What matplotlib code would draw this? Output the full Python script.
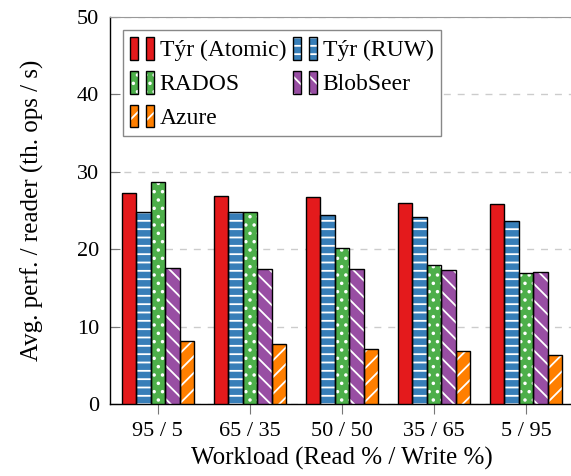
import numpy as np
import matplotlib
matplotlib.use('Agg')
import matplotlib.pyplot as plt
from matplotlib.patches import Rectangle

plt.rcParams['font.family'] = ['Liberation Serif', 'DejaVu Serif']
plt.rcParams['hatch.linewidth'] = 1.3

workloads = ['95 / 5', '65 / 35', '50 / 50', '35 / 65', '5 / 95']
systems = ['Týr (Atomic)', 'Týr (RUW)', 'RADOS', 'BlobSeer', 'Azure']
tyr_atomic = [27.2, 26.9, 26.7, 26.0, 25.9]
tyr_ruw = [24.8, 24.8, 24.4, 24.1, 23.6]
rados = [28.7, 24.8, 20.2, 17.9, 16.9]
blobseer = [17.6, 17.5, 17.4, 17.3, 17.0]
azure = [8.1, 7.7, 7.1, 6.8, 6.3]

series = [tyr_atomic, tyr_ruw, rados, blobseer, azure]
colors = ['#e41a1c', '#377eb8', '#4daf4a', '#984ea3', '#ff7f00']
hatches = ['', '--', '..', '\\\\', '//']


class TwoBoxHandler:
    # pgfplots-style legend image: two small bars side by side
    def legend_artist(self, legend, orig_handle, fontsize, handlebox):
        x0, y0 = -handlebox.xdescent, -handlebox.ydescent
        w, h = handlebox.width, handlebox.height
        bw = w * 0.32
        tr = handlebox.get_transform()
        last = None
        for dx in (0, w - bw):
            base = Rectangle((x0 + dx, y0), bw, h, facecolor=orig_handle.get_facecolor(),
                             hatch=orig_handle.get_hatch(), edgecolor='white', lw=0, transform=tr)
            box = Rectangle((x0 + dx, y0), bw, h, facecolor='none', edgecolor='black', lw=1.0, transform=tr)
            handlebox.add_artist(base)
            handlebox.add_artist(box)
            last = box
        return last


fig = plt.figure(figsize=(5.71, 4.76), dpi=100)
ax = fig.add_axes([110 / 571, 72 / 476, 464 / 571, 387 / 476])

x = np.arange(len(workloads))
width = 0.157
handles = []
for i, (vals, c, h) in enumerate(zip(series, colors, hatches)):
    pos = x + (i - 2) * width
    ax.bar(pos, vals, width, color=c, hatch=h, edgecolor='white', linewidth=0, zorder=3)
    ax.bar(pos, vals, width, facecolor='none', edgecolor='black', linewidth=1.0, zorder=4)
    handles.append(Rectangle((0, 0), 1, 1, facecolor=c, hatch=h))

ax.set_xlim(-0.52, 4.52)
ax.set_ylim(0, 50)
ax.set_yticks([0, 10, 20, 30, 40, 50])
ax.set_xticks(x)
ax.set_xticklabels(workloads)
ax.tick_params(axis='both', labelsize=16, color='#777777', length=7)
ax.tick_params(axis='y', direction='in', pad=8)
ax.tick_params(axis='x', direction='out', pad=6)
ax.yaxis.grid(True, linestyle=(0, (5, 5)), color='#cccccc', linewidth=1, zorder=0)
ax.set_axisbelow(True)

ax.spines['right'].set_visible(False)
ax.spines['top'].set_color('#999999')
ax.spines['left'].set_linewidth(1.0)
ax.spines['bottom'].set_linewidth(1.0)

ax.set_xlabel('Workload (Read % / Write %)', fontsize=18)
ax.set_ylabel('Avg. perf. / reader (th. ops / s)', fontsize=18)
ax.xaxis.set_label_coords(0.5, -0.112)
ax.yaxis.set_label_coords(-0.142, 0.5)

# column-major fill: reorder so rows read Atomic/RUW, RADOS/BlobSeer, Azure
order = [0, 2, 4, 1, 3]
leg = ax.legend([handles[k] for k in order], [systems[k] for k in order],
                loc='upper left', ncol=2, fontsize=17,
                handler_map={Rectangle: TwoBoxHandler()},
                handlelength=1.0, handleheight=1.1, handletextpad=0.25,
                columnspacing=0.3, labelspacing=0.4, borderpad=0.3,
                borderaxespad=0.55, fancybox=False, framealpha=1)
leg.get_frame().set_edgecolor('#888888')
leg.get_frame().set_linewidth(1.0)

plt.savefig('out.png', dpi=100)
